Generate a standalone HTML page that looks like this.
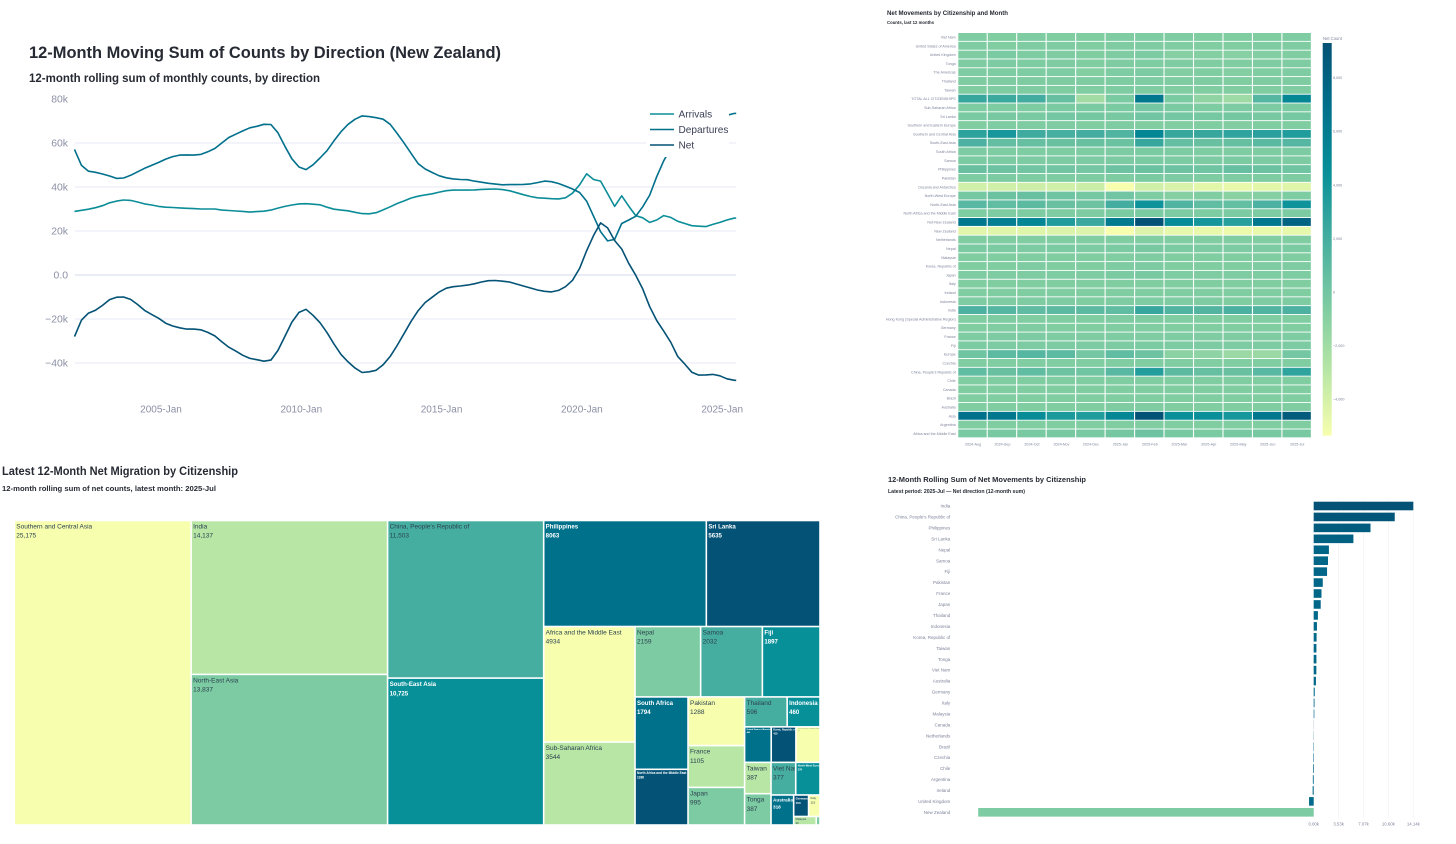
<!DOCTYPE html>
<html lang="en">
<head>
<meta charset="utf-8">
<title>New Zealand Migration Dashboard</title>
<style>
  html, body { margin: 0; padding: 0; background: #ffffff; }
  #dashboard { display: block; font-family: "Liberation Sans", Arial, sans-serif; }
</style>
</head>
<body>
<svg id="dashboard" xmlns="http://www.w3.org/2000/svg" width="1456" height="844" viewBox="0 0 1456 844">
  <rect x="0" y="0" width="1456" height="844" fill="#ffffff"/>

  <text x="29" y="58" font-size="17" font-weight="bold" fill="#262a33" textLength="472" lengthAdjust="spacingAndGlyphs">12-Month Moving Sum of Counts by Direction (New Zealand)</text>
  <text x="29" y="82" font-size="12" font-weight="bold" fill="#262a33" textLength="291" lengthAdjust="spacingAndGlyphs">12-month rolling sum of monthly counts, by direction</text>
  <g id="line-chart"></g>

  <text x="887" y="15" font-size="6.6" font-weight="bold" fill="#262a33" textLength="121" lengthAdjust="spacingAndGlyphs">Net Movements by Citizenship and Month</text>
  <text x="887" y="24" font-size="4.6" font-weight="bold" fill="#262a33" textLength="47" lengthAdjust="spacingAndGlyphs">Counts, last 12 months</text>
  <g id="heatmap"></g>

  <text x="2" y="475" font-size="12" font-weight="bold" fill="#262a33" textLength="236" lengthAdjust="spacingAndGlyphs">Latest 12-Month Net Migration by Citizenship</text>
  <text x="2" y="491" font-size="7.6" font-weight="bold" fill="#262a33" textLength="214" lengthAdjust="spacingAndGlyphs">12-month rolling sum of net counts, latest month: 2025-Jul</text>
  <g id="treemap"></g>

  <text x="888" y="482" font-size="7.6" font-weight="bold" fill="#262a33" textLength="198" lengthAdjust="spacingAndGlyphs">12-Month Rolling Sum of Net Movements by Citizenship</text>
  <text x="888" y="493" font-size="5.2" font-weight="bold" fill="#262a33" textLength="137" lengthAdjust="spacingAndGlyphs">Latest period: 2025-Jul — Net direction (12-month sum)</text>
  <g id="bar-chart"></g>
</svg>

<script>
/* ---------- line chart data (thousands) ---------- */
const lineMonths = ['2001-12','2002-03','2002-06','2002-09','2002-12','2003-03','2003-06','2003-09','2003-12','2004-03','2004-06','2004-09','2004-12','2005-03','2005-06','2005-09','2005-12','2006-03','2006-06','2006-09','2006-12','2007-03','2007-06','2007-09','2007-12','2008-03','2008-06','2008-09','2008-12','2009-03','2009-06','2009-09','2009-12','2010-03','2010-06','2010-09','2010-12','2011-03','2011-06','2011-09','2011-12','2012-03','2012-06','2012-09','2012-12','2013-03','2013-06','2013-09','2013-12','2014-03','2014-06','2014-09','2014-12','2015-03','2015-06','2015-09','2015-12','2016-03','2016-06','2016-09','2016-12','2017-03','2017-06','2017-09','2017-12','2018-03','2018-06','2018-09','2018-12','2019-03','2019-06','2019-09','2019-12','2020-03','2020-06','2020-09','2020-12','2021-03','2021-06','2021-09','2021-12','2022-03','2022-06','2022-09','2022-12','2023-03','2023-06','2023-09','2023-12','2024-03','2024-06','2024-09','2024-12','2025-03','2025-06','2025-07'];
const arrivalsValues = [28.9,29.4,29.9,30.6,31.5,32.8,33.6,34.1,33.9,33.2,32.3,31.8,31.2,30.8,30.7,30.5,30.3,30.2,30,30,30,29.5,29.3,29.1,28.9,28.6,28.8,29,29.5,30.4,31.2,31.8,32.3,32.4,32.2,31.9,30.8,29.9,29.5,29.2,28.5,27.9,27.8,28.3,29.6,31,32.5,33.7,35,35.8,36.4,36.9,37.7,38.3,38.6,38.6,38.6,38.7,38.9,39,39.1,38.8,38.3,37.4,36.5,35.7,35.1,34.9,34.7,34.6,35.1,37.2,41,46,43.4,42.7,37,31.2,36,31.3,27,26,23.9,25,27,26.2,24.4,23.4,22.4,22.2,22,23,23.9,25,25.8,25.9];
const departuresValues = [57.1,49.8,47.2,46.7,45.9,45,43.9,44.1,45.3,46.9,48.5,49.8,51.2,52.7,53.8,54.5,54.6,54.5,54.8,56,57.5,60,62.5,64,65.5,66.9,67.6,68.5,68.4,64.7,58.5,52.8,49.1,47.9,50.1,53.2,56.5,61,65.2,68.5,70.8,72.3,72,71.5,70.8,68.5,64.3,59.9,55.2,50.6,48.2,46.6,45.1,44.2,43.7,43.4,43.3,42.7,42.2,41.7,41.3,41,41.1,41.1,41.2,41.4,42,42.7,42.4,41.6,40.4,39.1,37.5,33.6,26.7,19.7,15.5,16.2,23.4,25,26.7,31,36.3,44.7,51.9,57.5,61,64,66,68,69.5,70.5,71.5,72.6,73.4,73.5];
const netValues = [-28,-20.5,-17.3,-16,-13.8,-11.2,-10.1,-10,-11.1,-13.4,-16.1,-17.9,-19.7,-21.9,-23.2,-24,-24.6,-24.6,-24.9,-26.1,-27.7,-30.3,-32.8,-34.6,-36.5,-37.9,-38.5,-39.2,-38.7,-34.3,-27.9,-21.4,-17,-15.6,-18.3,-21.7,-26.2,-31.4,-36.2,-39.5,-42.3,-44.3,-44,-43.3,-40.8,-37,-32,-26.5,-21,-16.2,-12.5,-10.1,-7.7,-6,-5.3,-5,-4.6,-4,-3.2,-2.6,-2.5,-2.8,-3.2,-4.1,-5,-5.9,-6.8,-7.4,-7.7,-7,-5.3,-2.4,3,11,18,23.7,21.4,15.7,11.8,5.3,-0.1,-6.3,-14.4,-20.7,-25.5,-30.6,-37.1,-40.5,-44.2,-45.5,-45.4,-45.2,-45.8,-47.2,-47.8,-47.9];
const lineYTicks = [80,60,40,20,0,-20,-40];
const lineYTickLabels = ['80k','60k','40k','20k','0.0','\u221220k','\u221240k'];
const lineXTicks = [2005,2010,2015,2020,2025];
const lineXTickLabels = ['2005-Jan','2010-Jan','2015-Jan','2020-Jan','2025-Jan'];
const lineSeriesNames = ['Arrivals','Departures','Net'];

/* ---------- heatmap data ---------- */
const heatMonths = ['2024-Aug','2024-Sep','2024-Oct','2024-Nov','2024-Dec','2025-Jan','2025-Feb','2025-Mar','2025-Apr','2025-May','2025-Jun','2025-Jul'];
const heatRows = ['Viet Nam','United States of America','United Kingdom','Tonga','The Americas','Thailand','Taiwan','TOTAL ALL CITIZENSHIPS','Sub-Saharan Africa','Sri Lanka','Southern and Eastern Europe','Southern and Central Asia','South-East Asia','South Africa','Samoa','Philippines','Pakistan','Oceania and Antarctica','North-West Europe','North-East Asia','North Africa and the Middle East','Not-New Zealand','New Zealand','Netherlands','Nepal','Malaysia','Korea, Republic of','Japan','Italy','Ireland','Indonesia','India','Hong Kong (Special Administrative Region)','Germany','France','Fiji','Europe','Czechia','China, People\'s Republic of','Chile','Canada','Brazil','Australia','Asia','Argentina','Africa and the Middle East'];
const heatValues = [
  [50,30,40,30,10,60,100,40,30,20,30,40],
  [40,20,40,60,0,50,40,30,20,20,40,50],
  [50,200,80,40,-20,60,150,-200,-150,-250,-100,-30],
  [40,140,120,60,20,40,80,50,30,30,60,40],
  [60,120,100,80,-150,120,180,-60,-40,-100,0,50],
  [60,50,60,50,40,70,120,60,40,30,50,60],
  [30,40,40,30,30,80,60,30,20,10,30,40],
  [3000,2800,2600,1100,-1300,200,6500,200,-600,-1100,1800,5500],
  [100,120,100,250,200,250,500,200,100,150,150,200],
  [300,350,300,500,450,350,600,500,400,450,350,400],
  [30,50,50,40,0,50,-30,-60,-40,-80,-40,-10],
  [3400,4200,2700,2400,2500,2000,5500,3000,3000,3300,3500,3800],
  [2200,1200,1100,1000,1000,900,3000,1200,1000,1100,1600,1800],
  [150,120,100,120,100,150,200,150,120,100,120,130],
  [200,180,160,170,150,220,260,160,170,190,180,160],
  [1000,800,600,600,500,800,900,800,700,1100,900,700],
  [120,130,110,110,90,120,200,130,100,100,110,120],
  [-3000,-3000,-2900,-3000,-2800,-4800,-3000,-3300,-3700,-3900,-3700,-3500],
  [400,900,1000,700,400,600,100,-200,0,-400,-200,100],
  [1700,1300,1500,1000,800,2500,4500,2000,1300,1200,2200,4500],
  [80,90,90,70,60,200,250,140,120,160,140,130],
  [6500,6000,5500,3800,2900,6300,9200,5000,4300,3600,6600,8000],
  [-3600,-3500,-3500,-3400,-3400,-5100,-3400,-3800,-3900,-4000,-3900,-3800],
  [10,20,20,10,-10,10,0,-10,-10,-20,-10,0],
  [250,220,180,200,150,200,350,200,180,170,180,200],
  [10,10,10,10,10,30,50,10,10,10,10,10],
  [20,30,40,30,0,120,180,30,20,10,40,50],
  [50,50,60,70,40,240,330,110,50,60,70,80],
  [10,20,20,10,0,20,10,0,10,0,10,10],
  [-10,20,10,0,-20,10,20,-10,-20,-30,-10,0],
  [40,40,50,50,30,60,90,40,40,30,40,40],
  [2200,1800,1400,1500,1500,1300,3000,2000,1900,2300,2000,2200],
  [30,40,30,30,10,40,60,30,20,10,30,30],
  [10,30,40,30,10,30,20,10,0,-10,10,20],
  [90,130,150,110,60,90,40,70,60,40,60,80],
  [170,160,150,170,140,180,190,160,150,170,160,150],
  [700,1500,1800,1500,500,1300,800,-400,-500,-1000,-1000,500],
  [0,10,10,0,0,10,0,-10,0,-10,0,0],
  [1300,1000,1300,800,700,1700,3700,1500,1100,1000,1700,3300],
  [0,10,0,0,0,0,10,0,0,0,-10,0],
  [10,20,20,10,0,20,10,10,0,0,10,10],
  [20,10,10,10,0,10,20,10,0,0,10,10],
  [20,30,30,30,20,40,50,30,20,10,20,30],
  [7000,6500,5000,4000,3800,5500,9300,4800,4800,4200,6500,8600],
  [10,0,10,0,0,10,10,0,0,0,0,10],
  [300,320,300,350,290,450,800,360,250,320,320,340]
];
const colorbarTicks = [8000,6000,4000,2000,0,-2000,-4000];
const colorbarTickLabels = ['8,000','6,000','4,000','2,000','0','\u22122,000','\u22124,000'];

/* ---------- treemap data ---------- */
const tileNames = ['Southern and Central Asia','India','North-East Asia','China, People\'s Republic of','South-East Asia','Philippines','Sri Lanka','Africa and the Middle East','Sub-Saharan Africa','Nepal','Samoa','Fiji','South Africa','North Africa and the Middle East','Pakistan','France','Japan','Thailand','Indonesia','United States of America','Korea, Republic of','Hong Kong (Special Administrative Region)','Taiwan','Tonga','Viet Nam','North-West Europe','Australia','Germany','Italy','Malaysia','Canada'];
const tileValues = [25175,14137,13837,11503,10725,8063,5635,4934,3544,2159,2032,1897,1794,1380,1288,1105,995,596,460,442,410,400,387,387,377,370,318,150,115,90,15];

/* ---------- bar chart data ---------- */
const barCategories = ['India','China, People\'s Republic of','Philippines','Sri Lanka','Nepal','Samoa','Fiji','Pakistan','France','Japan','Thailand','Indonesia','Korea, Republic of','Taiwan','Tonga','Viet Nam','Australia','Germany','Italy','Malaysia','Canada','Netherlands','Brazil','Czechia','Chile','Argentina','Ireland','United Kingdom','New Zealand'];
const barValues = [14137,11503,8063,5635,2159,2032,1897,1288,1105,995,596,460,410,387,387,377,318,150,115,90,15,-25,-50,-70,-100,-120,-150,-660,-47620];
const barTicks = [0,3535,7070,10600,14137];
const barTickLabels = ['0.00k','3.53k','7.07k','10.60k','14.14k'];

/* ---------- shared helpers ---------- */
const SVG_NS = 'http://www.w3.org/2000/svg';
const palette = ['#f7feae','#b7e6a5','#7ccba2','#46aea0','#089099','#00718b','#045275'];

function make(parent, tag, attrs, content) {
  const node = document.createElementNS(SVG_NS, tag);
  Object.keys(attrs).forEach(function (key) { node.setAttribute(key, attrs[key]); });
  if (content !== undefined) node.textContent = content;
  parent.appendChild(node);
  return node;
}
function hexToRgb(hex) {
  return [parseInt(hex.slice(1, 3), 16), parseInt(hex.slice(3, 5), 16), parseInt(hex.slice(5, 7), 16)];
}
function mix(a, b, t) {
  const ca = hexToRgb(a), cb = hexToRgb(b);
  return 'rgb(' + ca.map(function (c, i) { return Math.round(c + (cb[i] - c) * t); }).join(',') + ')';
}
function paletteColor(t) {
  const clamped = Math.max(0, Math.min(1, t));
  const pos = clamped * (palette.length - 1);
  const i = Math.min(palette.length - 2, Math.floor(pos));
  return mix(palette[i], palette[i + 1], pos - i);
}

/* ---------- line chart ---------- */
(function () {
  const root = document.getElementById('line-chart');
  const seriesValues = [arrivalsValues, departuresValues, netValues];
  const seriesColors = ['#0b8d98', '#00708c', '#045275'];
  const xOfYear = function (year) { return 161 + (year - 2005) * 28.06; };
  const yOfValue = function (v) { return 275 - v * 2.2; };
  const monthToYear = function (m) {
    const parts = m.split('-');
    return Number(parts[0]) + (Number(parts[1]) - 1) / 12;
  };

  lineYTicks.forEach(function (v, i) {
    if (v < 80) {
      const grid = make(root, 'line', { x1: 75, x2: 736, y1: yOfValue(v), y2: yOfValue(v), stroke: v === 0 ? '#e6e9f2' : '#eff1f7', 'stroke-width': v === 0 ? 1.8 : 1.4 });
      
      
    }
    const label = make(root, 'text', { x: 68, y: yOfValue(v) + 3.7, 'text-anchor': 'end', 'font-size': 10.4, fill: '#8b90a5' }, lineYTickLabels[i]);
    
    
  });
  lineXTicks.forEach(function (year, i) {
    const label = make(root, 'text', { x: xOfYear(year), y: 412.6, 'text-anchor': 'middle', 'font-size': 10, fill: '#8b90a5' }, lineXTickLabels[i]);
    
    
  });
  seriesValues.forEach(function (values, s) {
    const pts = values.map(function (v, i) {
      return xOfYear(monthToYear(lineMonths[i])).toFixed(1) + ',' + yOfValue(v).toFixed(1);
    }).join(' ');
    const line = make(root, 'polyline', { points: pts, fill: 'none', stroke: seriesColors[s], 'stroke-width': 1.6, 'stroke-linejoin': 'round' });
    
    
  });

  const legend = make(root, 'g', {});
  
  
  const legendBox = make(legend, 'rect', { x: 646, y: 105, width: 83, height: 52, fill: '#ffffff' });
  
  
  lineSeriesNames.forEach(function (name, i) {
    const rowY = 114 + i * 15.5;
    const swatch = make(legend, 'line', { x1: 650, x2: 674, y1: rowY, y2: rowY, stroke: seriesColors[i], 'stroke-width': 1.6 });
    
    
    const text = make(legend, 'text', { x: 678.5, y: rowY + 3.6, 'font-size': 10.1, fill: '#3a3f55' }, name);
    
    
  });
})();

/* ---------- heatmap ---------- */
(function () {
  const root = document.getElementById('heatmap');
  const left = 958.3, top = 33, colW = 29.47, rowH = 8.81;
  const barMin = -5370, vMax = 9300;
  const cellMin = -4400;
  const colorOf = function (v) { return paletteColor((v - cellMin) / (vMax - cellMin)); };

  heatRows.forEach(function (rowName, r) {
    const label = make(root, 'text', { x: 955.7, y: top + r * rowH + 5.5, 'text-anchor': 'end', 'font-size': 3.65, fill: '#7f849b' }, rowName);
    
    
    heatMonths.forEach(function (month, c) {
      const cell = make(root, 'rect', { x: left + c * colW, y: top + r * rowH, width: colW - 1.1, height: rowH - 0.9, fill: colorOf(heatValues[r][c]) });
      
      
    });
  });
  heatMonths.forEach(function (month, c) {
    const label = make(root, 'text', { x: left + c * colW + colW / 2, y: 445.3, 'text-anchor': 'middle', 'font-size': 3.7, fill: '#7f849b' }, month);
    
    
  });

  const defs = make(root, 'defs', {});
  const gradient = make(defs, 'linearGradient', { id: 'colorbar-gradient', x1: 0, y1: 1, x2: 0, y2: 0 });
  palette.forEach(function (color, i) {
    make(gradient, 'stop', { offset: i / (palette.length - 1), 'stop-color': color });
  });
  const barTop = 43, barBottom = 435.7;
  const yOf = function (v) { return barBottom - (v - barMin) / (vMax - barMin) * (barBottom - barTop); };
  const colorbar = make(root, 'rect', { x: 1322.7, y: barTop, width: 9, height: barBottom - barTop, fill: 'url(#colorbar-gradient)' });
  
  
  const title = make(root, 'text', { x: 1323, y: 40, 'font-size': 4.2, fill: '#7f849b' }, 'Net Count');
  
  
  colorbarTicks.forEach(function (v, i) {
    const label = make(root, 'text', { x: 1333, y: yOf(v) + 1.4, 'font-size': 3.7, fill: '#7f849b' }, colorbarTickLabels[i]);
    
    
  });
})();

/* ---------- treemap (squarify layout, ratio 1) ---------- */
(function () {
  const root = document.getElementById('treemap');
  let x0 = 14.3, y0 = 520.5, x1 = 820, y1 = 825;
  const n = tileValues.length;
  const rects = [];
  let remaining = tileValues.reduce(function (a, b) { return a + b; }, 0);
  let i0 = 0, i1 = 0;
  while (i0 < n) {
    const dx = x1 - x0, dy = y1 - y0;
    let sum = tileValues[i1++];
    let minV = sum, maxV = sum;
    const alpha = Math.max(dy / dx, dx / dy) / remaining;
    let beta = sum * sum * alpha;
    let minRatio = Math.max(maxV / beta, beta / minV);
    for (; i1 < n; i1++) {
      const val = tileValues[i1];
      sum += val;
      if (val < minV) minV = val;
      if (val > maxV) maxV = val;
      beta = sum * sum * alpha;
      const newRatio = Math.max(maxV / beta, beta / minV);
      if (newRatio > minRatio) { sum -= val; break; }
      minRatio = newRatio;
    }
    if (dx < dy) {
      const h = dy * sum / remaining;
      let cx = x0;
      for (let k = i0; k < i1; k++) {
        const w = dx * tileValues[k] / sum;
        rects[k] = { x: cx, y: y0, w: w, h: h };
        cx += w;
      }
      y0 += h;
    } else {
      const w = dx * sum / remaining;
      let cy = y0;
      for (let k = i0; k < i1; k++) {
        const h = dy * tileValues[k] / sum;
        rects[k] = { x: x0, y: cy, w: w, h: h };
        cy += h;
      }
      x0 += w;
    }
    remaining -= sum;
    i0 = i1;
  }

  const gap = 0.8, lineStep = 9.2;
  rects.forEach(function (r, i) {
    const w = Math.max(0.5, r.w - gap * 2), h = Math.max(0.5, r.h - gap * 2);
    const tone = i % palette.length;
    const tile = make(root, 'rect', { x: r.x + gap, y: r.y + gap, width: w, height: h, fill: palette[tone] });
    
    
    if (w < 8) return;
    const light = tone >= 4;
    const baseSize = light ? 6.1 : 6.5;
    const name = tileNames[i];
    const est = name.length * (light ? 0.5 : 0.47) * baseSize;
    let size = est > w * 1.15 ? baseSize * w / est : baseSize;
    if (w < 20) size = Math.min(size, 3);
    if (h < size * 2.6) size = h / 2.6;
    const clip = make(root, 'svg', { x: r.x + gap, y: r.y + gap, width: w, height: h });
    
    
    const color = light ? '#ffffff' : '#2c4250';
    const weight = light ? 'bold' : 'normal';
    const step = lineStep * size / baseSize;
    const nameLabel = make(clip, 'text', { x: 1.2, y: step * 0.78, 'font-size': size, fill: color, 'font-weight': weight }, name);
    
    
    const v = tileValues[i];
    const shown = v >= 10000 ? v.toLocaleString('en-US') : String(v);
    const valueLabel = make(clip, 'text', { x: 1.2, y: step * 1.78, 'font-size': size, fill: color, 'font-weight': weight }, shown);
    
    
  });
})();

/* ---------- bar chart ---------- */
(function () {
  const root = document.getElementById('bar-chart');
  const zeroX = 1313.7, scale = 99.6 / 14137, firstY = 506, stepY = 10.94, barH = 8.6;
  const xOf = function (v) { return zeroX + v * scale; };
  const minV = Math.min.apply(null, barValues), maxV = Math.max.apply(null, barValues);
  const colorOf = function (v) {
    const t = (v - minV) / (maxV - minV);
    return t < 0.77 ? mix('#7ccba2', '#00698a', t / 0.77) : mix('#00698a', '#045275', (t - 0.77) / 0.23);
  };

  barTicks.forEach(function (v, i) {
    const grid = make(root, 'line', { x1: xOf(v), x2: xOf(v), y1: 500, y2: 818, stroke: '#f1f3f8', 'stroke-width': 0.7 });
    
    
    const label = make(root, 'text', { x: xOf(v), y: 825.5, 'text-anchor': 'middle', 'font-size': 4.3, fill: '#7f849b' }, barTickLabels[i]);
    
    
  });
  barCategories.forEach(function (name, i) {
    const cy = firstY + i * stepY;
    const label = make(root, 'text', { x: 950.3, y: cy + 1.6, 'text-anchor': 'end', 'font-size': 4.5, fill: '#7f849b' }, name);
    
    
    const v = barValues[i];
    const bar = make(root, 'rect', { x: Math.min(xOf(v), zeroX), y: cy - barH / 2, width: Math.abs(xOf(v) - zeroX), height: barH, fill: colorOf(v) });
    
    
  });
})();
</script>
</body>
</html>
